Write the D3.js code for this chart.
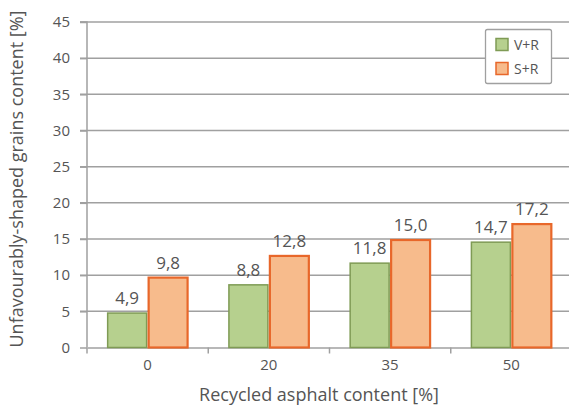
<!DOCTYPE html>
<html><head><meta charset="utf-8">
<script src="https://cdn.jsdelivr.net/npm/d3@7"></script>
<style>body{margin:0;background:#fff}svg{display:block}text{font-family:"Open Sans",sans-serif}</style>
</head><body><svg id="c" width="569" height="406"></svg>
<script>
const categories = ["0","20","35","50"];
const seriesNames = ["V+R","S+R"];
const valuesVR = [4.9, 8.8, 11.8, 14.7];
const valuesSR = [9.8, 12.8, 15.0, 17.2];
const yTicks = [0,5,10,15,20,25,30,35,40,45];
const fills = ["#b6d08e","#f7bb8c"];
const strokes = ["#7f9b55","#e8672a"];

(function(){
const svg = d3.select("#c");
const mLeft = 87, mRight = 572, mTop = 22, mBottom = 347.5;
const x = d3.scaleBand().domain(categories).range([mLeft, mRight]).paddingInner(0).paddingOuter(0);
const xs = d3.scaleBand().domain(seriesNames).range([0, x.bandwidth()]).paddingOuter(0.48).paddingInner(0);
const y = d3.scaleLinear().domain([0,45]).range([mBottom, mTop]);

// grid
svg.append("g").selectAll("line").data(yTicks.filter(d=>d>0)).join("line")
  .attr("x1", mLeft-7).attr("x2", 569).attr("y1", d=>y(d)).attr("y2", d=>y(d))
  .attr("stroke","#a0a0a0").attr("stroke-width",1.5);

// y axis
const ya = svg.append("g").attr("transform",`translate(${mLeft},0)`)
  .call(d3.axisLeft(y).tickValues(yTicks).tickSize(7).tickPadding(10).tickFormat(d3.format("d")));
ya.select(".domain").attr("stroke","#a0a0a0").attr("stroke-width",1.5).attr("d",`M-7,${mTop}H0V${mBottom}`);
ya.selectAll(".tick line").attr("stroke","#a0a0a0").attr("stroke-width",1.5);
ya.selectAll(".tick text").attr("fill","#555").style("font-size","15px").style("font-family","Open Sans");

// x axis
const xa = svg.append("g").attr("transform",`translate(0,${mBottom})`)
  .call(d3.axisBottom(x).tickSize(0).tickPadding(12));
xa.select(".domain").attr("stroke","#a0a0a0").attr("stroke-width",1.5);
xa.selectAll(".tick text").attr("fill","#555").style("font-size","15px").style("font-family","Open Sans");
svg.append("g").selectAll("line").data(categories).join("line")
  .attr("x1", c=>x(c)).attr("x2", c=>x(c))
  .attr("y1", mBottom).attr("y2", mBottom+6).attr("stroke","#a0a0a0").attr("stroke-width",1.5);

// bars
const data = [valuesVR, valuesSR];
data.forEach((vals, si) => {
  const g = svg.append("g");
  g.selectAll("rect").data(vals).join("rect")
    .attr("x", (d,i)=>x(categories[i]) + xs(seriesNames[si]) + 1)
    .attr("width", xs.bandwidth() - 2)
    .attr("y", d=>y(d)+1)
    .attr("height", d=>mBottom - y(d) - 1)
    .attr("fill", fills[si]).attr("stroke", strokes[si]).attr("stroke-width", si===1?2.2:1.5);
  g.selectAll("text").data(vals).join("text")
    .attr("x", (d,i)=>x(categories[i]) + xs(seriesNames[si]) + xs.bandwidth()/2)
    .attr("y", d=>y(d)-8)
    .attr("text-anchor","middle").attr("fill","#555").style("font-size","17px")
    .text(d=>d.toFixed(1).replace(".",","));
});

// legend
const lg = svg.append("g");
lg.append("rect").attr("x",485.5).attr("y",29.5).attr("width",66).attr("height",54).attr("rx",2)
  .attr("fill","#fff").attr("stroke","#a0a0a0").attr("stroke-width",1.3);
seriesNames.forEach((n,i)=>{
  lg.append("rect").attr("x",496).attr("y",38.5+i*24).attr("width",12).attr("height",12)
    .attr("fill",fills[i]).attr("stroke",strokes[i]).attr("stroke-width",1.5);
  lg.append("text").attr("x",514).attr("y",50+i*24).attr("fill","#555").style("font-size","14px").text(n);
});

// titles
svg.append("text").attr("x", 319).attr("y", 401).attr("text-anchor","middle")
  .attr("fill","#555").style("font-size","18px").text("Recycled asphalt content [%]");
svg.append("text").attr("transform","translate(23,179) rotate(-90)").attr("text-anchor","middle")
  .attr("fill","#555").style("font-size","18px").text("Unfavourably-shaped grains content [%]");
})();
</script></body></html>
